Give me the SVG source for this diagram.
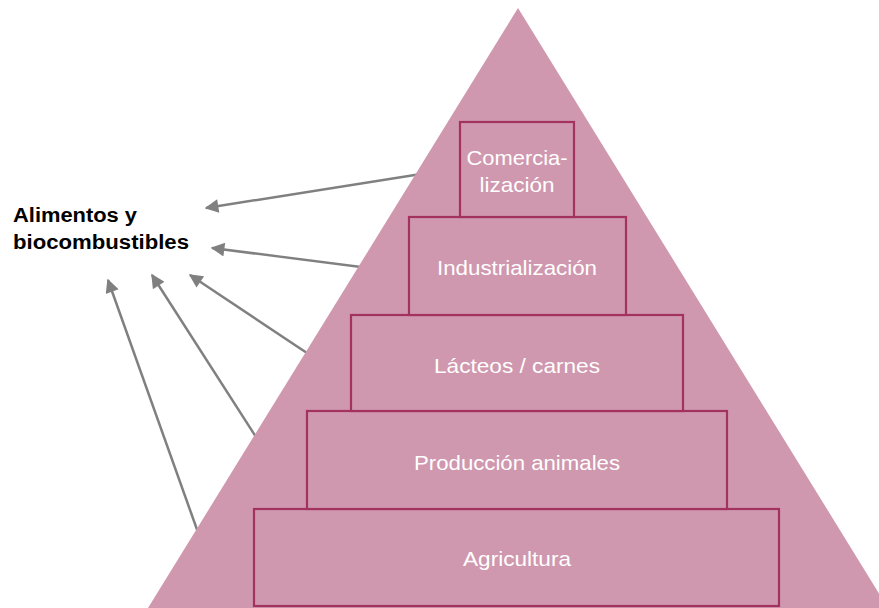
<svg xmlns="http://www.w3.org/2000/svg" width="879" height="608" viewBox="0 0 879 608">
<style>
.lvl{fill:#cf98ae;stroke:#a3325f;stroke-width:2.2}
.lbl{font-family:"Liberation Sans",Arial,sans-serif;font-size:21px;fill:#ffffff;text-anchor:middle}
.ttl{font-family:"Liberation Sans",Arial,sans-serif;font-size:20px;font-weight:bold;fill:#000000}
.arr{stroke:#808080;stroke-width:2.5;fill:none;marker-end:url(#ah)}
</style>
<defs>
<marker id="ah" viewBox="0 0 10 10" refX="9" refY="5" markerWidth="6.5" markerHeight="5.5" markerUnits="strokeWidth" orient="auto">
<path d="M0,0 L10,5 L0,10 z" fill="#808080"/>
</marker>
</defs>
<rect width="879" height="608" fill="#ffffff"/>
<g id="connectors">
<line class="arr" x1="440" y1="171" x2="206" y2="208"/>
<line class="arr" x1="400" y1="272" x2="212" y2="248"/>
<line class="arr" x1="340" y1="375" x2="190" y2="275"/>
<line class="arr" x1="290" y1="490" x2="152" y2="275"/>
<line class="arr" x1="215" y1="580" x2="108" y2="280"/>
</g>
<g id="pyramid">
<polygon points="518,8 148,608 888,608" fill="#cf98ae"/>
</g>
<g id="title">
<text class="ttl" x="13" y="222" textLength="124" lengthAdjust="spacingAndGlyphs">Alimentos y</text>
<text class="ttl" x="13" y="249" textLength="176" lengthAdjust="spacingAndGlyphs">biocombustibles</text>
</g>
<g id="agricultura">
<rect class="lvl" x="254" y="509" width="525" height="97"/>
<text class="lbl" x="517" y="566" textLength="108" lengthAdjust="spacingAndGlyphs">Agricultura</text>
</g>
<g id="produccion">
<rect class="lvl" x="307" y="411" width="420" height="98"/>
<text class="lbl" x="517" y="470" textLength="206" lengthAdjust="spacingAndGlyphs">Producción animales</text>
</g>
<g id="lacteos">
<rect class="lvl" x="351" y="315" width="332" height="96"/>
<text class="lbl" x="517" y="373" textLength="166" lengthAdjust="spacingAndGlyphs">Lácteos / carnes</text>
</g>
<g id="industrializacion">
<rect class="lvl" x="409" y="217" width="217" height="98"/>
<text class="lbl" x="517" y="275" textLength="160" lengthAdjust="spacingAndGlyphs">Industrialización</text>
</g>
<g id="comercializacion">
<rect class="lvl" x="460" y="122" width="114" height="95"/>
<text class="lbl" x="517" y="165" textLength="101" lengthAdjust="spacingAndGlyphs">Comercia-</text>
<text class="lbl" x="517" y="192" textLength="75" lengthAdjust="spacingAndGlyphs">lización</text>
</g>
</svg>
